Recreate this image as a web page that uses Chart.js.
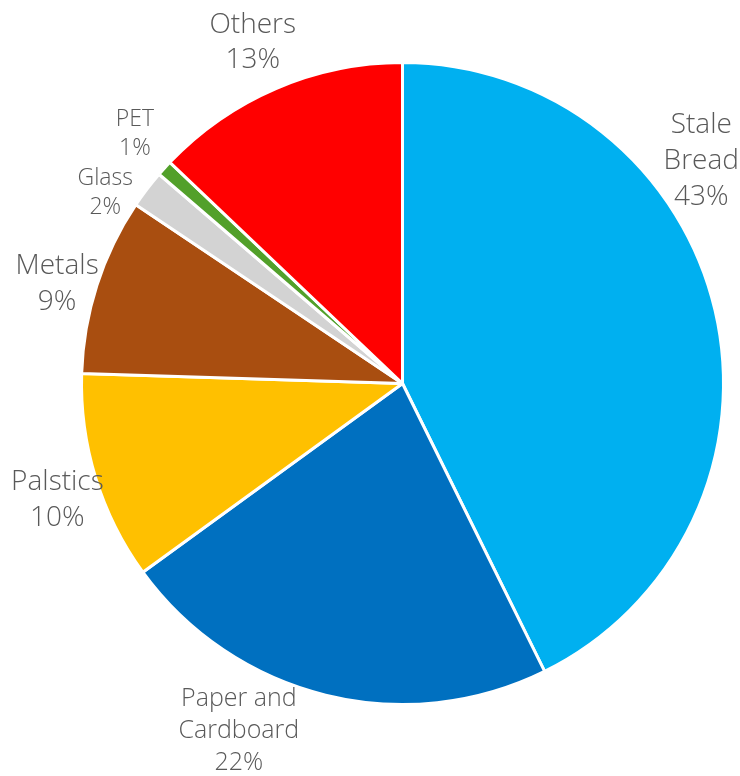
<!DOCTYPE html>
<html>
<head>
<meta charset="utf-8">
<script src="https://cdn.jsdelivr.net/npm/chart.js@4/dist/chart.umd.min.js"></script>
<style>
  html, body { margin: 0; padding: 0; background: #ffffff; }
  #wrap { width: 740px; height: 776px; position: relative; }
</style>
</head>
<body>
<div id="wrap"><canvas id="c"></canvas></div>
<script>
// ---- data ----
const categories = [['Stale', 'Bread'], ['Paper and', 'Cardboard'], 'Palstics', 'Metals', 'Glass', 'PET', 'Others'];
const shares = [42.7, 22.3, 10.5, 8.9, 1.9, 0.8, 12.9];
const percentLabels = ['43%', '22%', '10%', '9%', '2%', '1%', '13%'];
const sliceColors = ['#00B0F0', '#0070C0', '#FFC000', '#A94E10', '#D3D3D3', '#52A02A', '#FF0000'];

// label placement (style): angle tweak in degrees, distance from centre as multiple of radius, font size
const labelPlacement = [
  { dAngle: -23.5, dist: 1.16, size: 28 },
  { dAngle: 11.4, dist: 1.195, size: 25 },
  { dAngle: -1.6, dist: 1.135, size: 28 },
  { dAngle: -1.7, dist: 1.12, size: 28 },
  { dAngle: -4.6, dist: 1.10, size: 23 },
  { dAngle: 0.9, dist: 1.14, size: 23 },
  { dAngle: -0.5, dist: 1.16, size: 28 }
];

const outsideLabels = {
  id: 'outsideLabels',
  afterDatasetsDraw(chart) {
    const ctx = chart.ctx;
    const meta = chart.getDatasetMeta(0);
    meta.data.forEach((arc, i) => {
      const p = arc.getProps(['x', 'y', 'startAngle', 'endAngle', 'outerRadius'], true);
      const place = labelPlacement[i];
      const mid = (p.startAngle + p.endAngle) / 2 + place.dAngle * Math.PI / 180;
      const r = p.outerRadius * place.dist;
      const cx = p.x + Math.cos(mid) * r;
      const cy = p.y + Math.sin(mid) * r;
      const name = categories[i];
      const lines = (Array.isArray(name) ? name.slice() : [name]);
      lines.push(percentLabels[i]);
      const lh = place.size * 1.28;
      ctx.save();
      ctx.font = '300 ' + place.size + 'px "Open Sans", "Lato", sans-serif';
      ctx.fillStyle = '#595959';
      ctx.textAlign = 'center';
      ctx.textBaseline = 'middle';
      const top = cy - (lines.length - 1) * lh / 2;
      lines.forEach((t, k) => ctx.fillText(t, cx, top + k * lh));
      ctx.restore();
    });
  }
};

new Chart(document.getElementById('c'), {
  type: 'pie',
  data: {
    labels: categories,
    datasets: [{
      data: shares,
      backgroundColor: sliceColors,
      borderColor: '#ffffff',
      borderWidth: 3
    }]
  },
  options: {
    responsive: true,
    maintainAspectRatio: false,
    animation: false,
    layout: { padding: { left: 80, right: 15, top: 61, bottom: 70 } },
    plugins: {
      legend: { display: false },
      tooltip: { enabled: false }
    }
  },
  plugins: [outsideLabels]
});
</script>
</body>
</html>
